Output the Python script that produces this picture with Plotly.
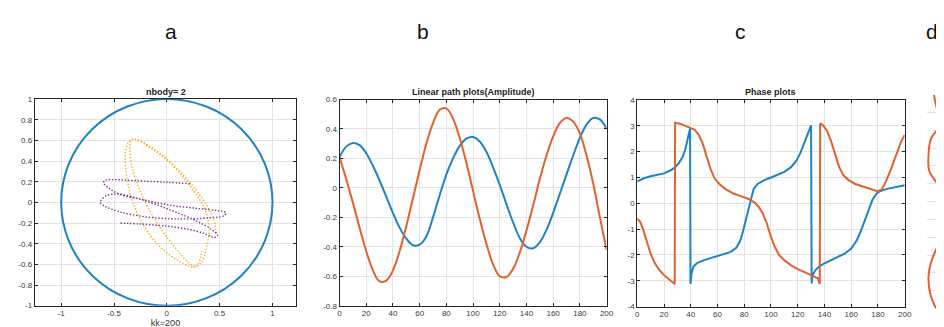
import plotly.graph_objects as go

# ---------------- data ----------------
# panel a : orbit points (x, y)
purple_x = [0.22, 0.0, -0.3, -0.5, -0.58, -0.60, -0.55, -0.45, -0.2, 0.05, 0.3, 0.48, 0.56, 0.54, 0.4, 0.1, -0.2, -0.45, -0.6, -0.63,
            -0.58, -0.46, -0.22, 0.05, 0.28, 0.42, 0.48, 0.45, 0.35, 0.2, 0.0, -0.25, -0.45]
purple_y = [0.18, 0.195, 0.21, 0.22, 0.215, 0.19, 0.14, 0.08, 0.02, -0.03, -0.06, -0.08, -0.10, -0.13, -0.15, -0.16, -0.14, -0.09, -0.03, 0.0,
            0.06, 0.08, 0.02, -0.08, -0.18, -0.26, -0.32, -0.34, -0.30, -0.26, -0.23, -0.21, -0.20]
yellow_x = [0.47, 0.44, 0.34, 0.18, 0.0, -0.17, -0.29, -0.35, -0.39, -0.38, -0.30, -0.12, 0.10, 0.22, 0.27, 0.33, 0.37, 0.40, 0.37, 0.22,
            0.02, -0.16, -0.28, -0.33, -0.35, -0.33, -0.24, -0.08, 0.08, 0.20, 0.27, 0.31, 0.33]
yellow_y = [-0.30, -0.15, 0.03, 0.24, 0.42, 0.55, 0.61, 0.60, 0.50, 0.25, -0.06, -0.37, -0.56, -0.62, -0.625, -0.58, -0.46, -0.27, -0.09, 0.16,
            0.39, 0.53, 0.60, 0.61, 0.55, 0.35, 0.08, -0.22, -0.44, -0.58, -0.62, -0.57, -0.47]
circle_radius = 1.0

# panel b : amplitudes
kk_b = list(range(0, 201, 5))
amp_blue = [0.21, 0.28, 0.305, 0.29, 0.235, 0.15, 0.05, -0.06, -0.17, -0.27, -0.345, -0.39, -0.385, -0.33, -0.2, -0.05,
            0.09, 0.2, 0.285, 0.335, 0.345, 0.315, 0.245, 0.14, 0.02, -0.11, -0.235, -0.34, -0.40, -0.41, -0.37, -0.285,
            -0.17, -0.04, 0.09, 0.22, 0.34, 0.43, 0.475, 0.465, 0.40]
amp_orange = [0.21, 0.06, -0.10, -0.27, -0.43, -0.56, -0.635, -0.63, -0.56, -0.43, -0.26, -0.07, 0.12, 0.30, 0.44, 0.53,
              0.54, 0.47, 0.34, 0.17, -0.02, -0.21, -0.38, -0.52, -0.60, -0.605, -0.55, -0.44, -0.29, -0.12, 0.06, 0.22,
              0.35, 0.44, 0.475, 0.45, 0.37, 0.22, 0.03, -0.20, -0.42]

# panel c : phases
kk_c_blue = [0, 5, 10, 15, 20, 25, 28, 31, 34, 36, 38, 39.5, 39.8,
             40.5, 42, 45, 50, 55, 60, 65, 70, 74, 77, 79, 81, 83, 85, 87, 90, 95, 100, 105, 110, 115, 119, 122, 125, 128, 130, 130.4,
             131, 133, 136, 140, 145, 150, 155, 160, 164, 167, 170, 173, 176, 179, 182, 186, 190, 195, 200]
ph_blue = [0.85, 0.97, 1.05, 1.1, 1.16, 1.28, 1.38, 1.55, 1.8, 2.1, 2.5, 2.9, -3.12,
           -2.75, -2.45, -2.3, -2.2, -2.12, -2.05, -1.98, -1.88, -1.72, -1.45, -1.1, -0.7, -0.25, 0.2, 0.55, 0.75, 0.9, 1.0,
           1.1, 1.22, 1.4, 1.65, 1.95, 2.35, 2.8, 3.02, -3.1,
           -2.8, -2.6, -2.45, -2.32, -2.2, -2.1, -1.95, -1.75, -1.45, -1.1, -0.7, -0.25, 0.15, 0.38, 0.48, 0.55, 0.6, 0.65, 0.7]
kk_c_orange = [0, 2, 4, 6, 8, 10, 13, 16, 20, 24, 28, 28.3,
               32, 36, 40, 43, 46, 49, 52, 55, 58, 62, 66, 72, 78, 84, 88, 91, 94, 97, 100, 103, 106, 110, 115, 120, 126, 131,
               135, 136.5, 136.8,
               139, 142, 145, 148, 151, 154, 158, 163, 170, 176, 180, 183, 186, 190, 194, 197, 200]
ph_orange = [-0.6, -0.7, -0.95, -1.3, -1.65, -1.95, -2.3, -2.55, -2.78, -2.95, -3.12, 3.12,
             3.08, 3.0, 2.93, 2.85, 2.65, 2.3, 1.8, 1.3, 0.95, 0.72, 0.55, 0.38, 0.27, 0.15, 0.02, -0.15, -0.4, -0.8, -1.3,
             -1.7, -2.0, -2.2, -2.4, -2.55, -2.68, -2.8, -2.9, -3.12, 3.1,
             3.02, 2.8, 2.4, 1.9, 1.4, 1.1, 0.9, 0.75, 0.62, 0.52, 0.46, 0.55, 0.85, 1.35, 1.9, 2.35, 2.65]

# panel d : (cut off) vertical amplitude plot
d_blue_t = [0, 20, 38, 55, 87, 107, 115, 136, 155, 169, 202, 224, 240]
d_blue_v = [0.68, 0.78, 0.93, 1.05, 1.05, 0.93, 0.67, 0.72, 0.93, 1.05, 1.05, 0.85, 0.67]
d_orange_t = [0, 16, 31, 49, 68, 85, 100, 107, 125, 147, 166, 188, 205, 224, 240]
d_orange_v = [0.38, 0.55, 0.83, 0.22, 0.07, 0.11, 0.59, 0.93, 1.1, 1.05, 0.67, 0.22, 0.07, 0.18, 0.5]

# ticks
a_xticks = [-1, -0.5, 0, 0.5, 1]
a_xlabels = ["-1", "-0.5", "0", "0.5", "1"]
a_yticks = [-1, -0.8, -0.6, -0.4, -0.2, 0, 0.2, 0.4, 0.6, 0.8, 1]
a_ylabels = ["-1", "-0.8", "-0.6", "-0.4", "-0.2", "0", "0.2", "0.4", "0.6", "0.8", "1"]
kk_ticks = list(range(0, 201, 20))
b_yticks = [-0.8, -0.6, -0.4, -0.2, 0, 0.2, 0.4, 0.6]
b_ylabels = ["-0.8", "-0.6", "-0.4", "-0.2", "0", "0.2", "0.4", "0.6"]
c_yticks = [-4, -3, -2, -1, 0, 1, 2, 3, 4]
c_ylabels = ["-4", "-3", "-2", "-1", "0", "1", "2", "3", "4"]

# ---------------- style ----------------
W, H = 944, 327
BLUE = "#1f82c4"
ORANGE = "#e0622f"
PURPLE = "#7E2F8E"
YELLOW = "#EDB120"
GRID = "#e3e3e3"
AXC = "#262626"
FONT = "Liberation Sans"
TICKF = dict(family=FONT, size=8, color="#3a3a3a")


def px_x(a, b):
    return [a / W, b / W]


def px_y(top, bottom):
    return [1 - bottom / H, 1 - top / H]


def axis(domain, rng, tickvals=None, ticktext=None, anchor=None, **kw):
    d = dict(domain=domain, range=rng, showline=True, linecolor=AXC, linewidth=1, mirror="ticks",
             ticks="inside", ticklen=3, tickcolor=AXC, showgrid=True, gridcolor=GRID, gridwidth=1,
             zeroline=False, tickfont=TICKF, anchor=anchor, fixedrange=True)
    if tickvals is not None:
        d.update(tickmode="array", tickvals=tickvals, ticktext=ticktext)
    d.update(kw)
    return d


fig = go.Figure()

# panel a
fig.add_trace(go.Scatter(x=yellow_x, y=yellow_y, mode="lines", xaxis="x", yaxis="y",
                         line=dict(color=YELLOW, width=1.4, dash="1.4px,1.8px", shape="spline", smoothing=1.0)))
fig.add_trace(go.Scatter(x=purple_x, y=purple_y, mode="lines", xaxis="x", yaxis="y",
                         line=dict(color=PURPLE, width=1.4, dash="1.4px,1.8px", shape="spline", smoothing=1.0)))
fig.add_shape(type="circle", xref="x", yref="y", x0=-circle_radius, x1=circle_radius,
              y0=-circle_radius, y1=circle_radius, line=dict(color=BLUE, width=2))

# panel b
fig.add_trace(go.Scatter(x=kk_b, y=amp_blue, mode="lines", xaxis="x2", yaxis="y2",
                         line=dict(color=BLUE, width=2, shape="spline", smoothing=1.0)))
fig.add_trace(go.Scatter(x=kk_b, y=amp_orange, mode="lines", xaxis="x2", yaxis="y2",
                         line=dict(color=ORANGE, width=2, shape="spline", smoothing=1.0)))

# panel c
fig.add_trace(go.Scatter(x=kk_c_blue, y=ph_blue, mode="lines", xaxis="x3", yaxis="y3",
                         line=dict(color=BLUE, width=2)))
fig.add_trace(go.Scatter(x=kk_c_orange, y=ph_orange, mode="lines", xaxis="x3", yaxis="y3",
                         line=dict(color=ORANGE, width=2)))

# panel d
fig.add_trace(go.Scatter(x=d_blue_v, y=d_blue_t, mode="lines", xaxis="x4", yaxis="y4",
                         line=dict(color=BLUE, width=2, shape="spline")))
fig.add_trace(go.Scatter(x=d_orange_v, y=d_orange_t, mode="lines", xaxis="x4", yaxis="y4",
                         line=dict(color=ORANGE, width=2, shape="spline")))

fig.update_layout(
    width=W, height=H, margin=dict(l=0, r=0, t=0, b=0),
    paper_bgcolor="white", plot_bgcolor="white", showlegend=False,
    font=dict(family=FONT),
    xaxis=axis(px_x(25, 289), [-1.25, 1.225], a_xticks, a_xlabels, anchor="y",
               title=dict(text="kk=200", font=dict(family=FONT, size=9, color="#333"), standoff=2)),
    yaxis=axis(px_y(89.5, 302), [-1, 1], a_yticks, a_ylabels, anchor="x"),
    xaxis2=axis(px_x(332.7, 602.3), [0, 200], kk_ticks, [str(v) for v in kk_ticks], anchor="y2"),
    yaxis2=axis(px_y(90, 302), [-0.8, 0.6], b_yticks, b_ylabels, anchor="x2"),
    xaxis3=axis(px_x(633.3, 903.3), [0, 200], kk_ticks, [str(v) for v in kk_ticks], anchor="y3"),
    yaxis3=axis(px_y(90.5, 303), [-4, 4], c_yticks, c_ylabels, anchor="x3"),
    xaxis4=dict(domain=px_x(926, 944), range=[0, 1], showline=False, showgrid=False, zeroline=False,
                showticklabels=False, anchor="y4", fixedrange=True),
    yaxis4=dict(domain=px_y(85, 305), range=[240, 0], showline=False, showgrid=True, gridcolor=GRID,
                dtick=20, zeroline=False, showticklabels=False, anchor="x4", fixedrange=True),
)

ann = [
    dict(text="a", x=163 / W, y=1 - 20 / H),
    dict(text="b", x=417 / W, y=1 - 20 / H),
    dict(text="c", x=738 / W, y=1 - 20 / H),
    dict(text="d", x=931 / W, y=1 - 20 / H),
]
for a in ann:
    fig.add_annotation(text=a["text"], x=a["x"], y=a["y"], xref="paper", yref="paper", showarrow=False,
                       font=dict(family=FONT, size=21, color="#111"), xanchor="center", yanchor="middle")

titles = [("nbody= 2", 158), ("Linear path plots(Amplitude)", 468), ("Phase plots", 768)]
for t, xc in titles:
    fig.add_annotation(text="<b>" + t + "</b>", x=xc / W, y=1 - 82 / H, xref="paper", yref="paper",
                       showarrow=False, font=dict(family=FONT, size=9, color="#222"),
                       xanchor="center", yanchor="middle")

fig.write_html("out.html")
